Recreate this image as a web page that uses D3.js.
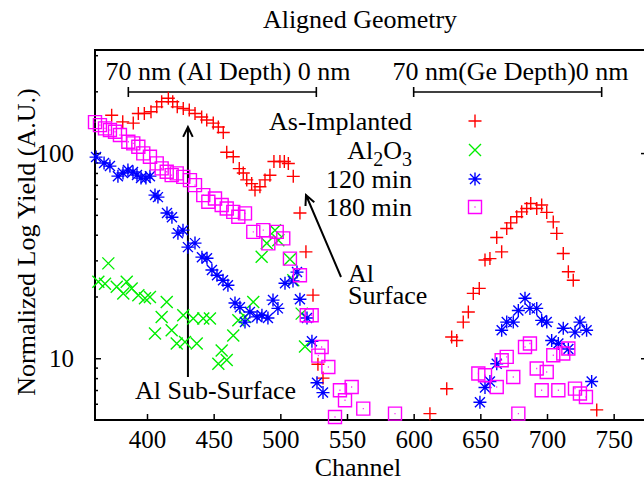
<!DOCTYPE html>
<html>
<head>
<meta charset="utf-8">
<script src="https://cdn.jsdelivr.net/npm/d3@7"></script>
<style>
  body { margin: 0; background: #fff; }
  text { font-family: "Liberation Serif", "DejaVu Serif", serif; fill: #000; }
</style>
</head>
<body>
<div id="chart-area"></div>
<script>
// values: [channel, normalized yield]
const asImplanted = [
  [373.5,153],[381.8,142],[389.7,140],[393.5,156],[398,156],[403,159],[407.3,168],[411,178],
  [416,185],[419.3,178],[422.7,168],[427.2,165],[431.7,162],[436,156],[441,150],[444.8,145],
  [449.7,140],[453.5,134],[457.2,126],[459.8,101],[464.7,96],[469.2,84],[472.2,80],[474.8,74],
  [478.5,71],[481,66],[484.7,68.5],[488.5,74],[492.2,78],[495.2,91],[499.7,91],[503,91],
  [506,89],[509.7,77],[514.7,51],[519.2,33],[524.5,20.3],[528.2,9.35],[532,8.0],
  [612.2,5.37],[624.8,7.1],[628.5,12.7],[632.3,12.2],[637.2,15],[641,16.8],[644.7,20.7],
  [649.2,21.9],[653.5,30.1],[657.2,30.6],[662.3,38.8],[666,33],[669.8,42.9],[672.8,45.7],
  [677.3,48.9],[681,51.7],[684.8,53.7],[687.8,56.8],[692.3,53.7],[696,55.8],[699.8,51.4],
  [704.7,46.2],[707.3,40.6],[712.2,32.4],[716,26.4],[719.7,24],[737.3,5.6]
];
const al2o3 = [
  [363.5,23.6],[368.5,23.1],[371,29],[377.3,22.3],[382.2,20.7],[384.8,23.6],[388.5,21.9],
  [393.5,20.3],[398.5,19.6],[402.2,19.9],[406,13.2],[411,15.9],[414.8,18.8],[418.5,13.7],
  [422.3,11.8],[427.2,16.2],[428.5,12],[434.7,15.6],[437.3,11.8],[442.2,15.6],[447.2,15.6],
  [453.5,9.4],[456,10.9],[459.8,9.8],[464.7,12.9],[468.5,15.3],[473.5,15.9],[479.7,18.8],
  [486,31.2],[489.8,36.3],[496,42.1],[498.5,37.6],[507.2,30.4],[509.7,24],[516,16.5],[518.5,11.4]
];
const min120 = [
  [361.8,95.6],[367.8,89.4],[372.2,86.4],[378.2,77.2],[382,79.9],[385.7,82.6],[389.5,80.8],
  [392.5,78.1],[395.5,75.5],[399.2,75.5],[402.2,77.2],[406,62.4],[408.2,61],[415,51],
  [418.7,48.7],[423.2,40.7],[427,42.1],[430.7,34.8],[436,36.4],[441.2,31.1],[445,30.7],
  [448.7,26.9],[452.5,25.4],[457,24],[460.7,22.7],[466,18.6],[469.7,17.7],[473.5,15],
  [477.2,16.8],[482.5,15.9],[486.2,16.2],[490.7,15.7],[494.5,19.2],[498.2,17.5],[503.5,23.2],
  [509.5,23.8],[512.5,26.3],[514.7,19.4],[520,15.7],[523.7,12.1],[527.5,7.6],[532,6.8],
  [649.7,6.1],[653.5,7.2],[657.2,7.7],[662.3,9.4],[666,13.7],[669.8,15],[674.7,15],
  [678.5,17.1],[683.5,19.6],[687.2,17.5],[692.3,17.5],[696,15.3],[699.8,15],[703.5,12.2],
  [708.5,11.8],[712.2,14],[716,11.1],[721,13.4],[724.7,15],[729.7,13.7],[733.5,7.7]
];
const min180 = [
  [361,141.6],[364.7,136.9],[368.5,132],[372.2,129.5],[376,127],[379.7,122.4],[386,113.6],
  [389.7,111.5],[393.5,107.3],[397.2,99.7],[402.2,95.9],[407.3,89.1],[411,84.2],[414.8,81.1],
  [418.5,78.1],[422.3,79.6],[427.2,76.6],[432.2,73.8],[436,69.8],[442.2,62.4],[446,57.9],
  [451,60.1],[456,55.8],[459.8,53.7],[464.7,51.7],[468.5,48.9],[473.5,50.8],[479.7,41.3],
  [487.2,42.1],[491,36.3],[497.3,41.3],[502.2,38.4],[507.2,30.6],[514.7,25.4],[519.8,16.2],
  [523.5,16.2],[528.5,10.3],[531,11.35],[536,9.07],[541,5.17],[544.7,6.98],[548.5,6.24],
  [553.5,7.24],[562.2,5.68],[586,5.37],
  [648.5,8.42],[653.5,8.26],[662.3,7.24],[666,9.78],[669.8,10.15],[674.7,8.1],[678.5,5.37],
  [683.5,11.35],[687.2,11.8],[692.3,8.91],[696,6.98],[699.8,8.57],[704.7,10.34],[708.5,6.98],
  [712.2,10.54],[716,11.15],[721,7.11],[724.7,6.73],[729.2,6.47]
];

const seriesNames = ["As-Implanted", "Al2O3", "120 min", "180 min"];
const seriesColors = ["#ff0000", "#00ee00", "#0000ff", "#ff00ff"];
const seriesShapes = ["plus", "cross", "star", "box"];
const xTickValues = [400, 450, 500, 550, 600, 650, 700, 750];
const yMajorTicks = [10, 100];
const yMinorTicks = [6, 7, 8, 9, 20, 30, 40, 50, 60, 70, 80, 90, 200, 300];

const svg = d3.select("#chart-area")
    .append("svg")
    .attr("width", 644)
    .attr("height", 481);

const x = d3.scaleLinear().domain([361, 775]).range([95, 647]);
const y = d3.scaleLog().domain([5, 318]).range([420, 50]);

// frame
svg.append("rect")
    .attr("x", 95).attr("y", 50)
    .attr("width", 647 - 95).attr("height", 370)
    .attr("fill", "none").attr("stroke", "#000").attr("stroke-width", 2);

// axes
const xAxis = svg.append("g")
    .attr("transform", "translate(0,420)")
    .call(d3.axisBottom(x).tickValues(xTickValues).tickSizeInner(-6).tickSizeOuter(0).tickPadding(10));
const yAxis = svg.append("g")
    .attr("transform", "translate(95,0)")
    .call(d3.axisLeft(y).tickValues(yMajorTicks).tickFormat(d3.format("d")).tickSizeInner(-6).tickSizeOuter(0).tickPadding(21));
const yMinor = svg.append("g")
    .attr("transform", "translate(95,0)")
    .call(d3.axisLeft(y).tickValues(yMinorTicks).tickFormat("").tickSizeInner(-3).tickSizeOuter(0));
const yRight = svg.append("g")
    .attr("transform", "translate(647,0)")
    .call(d3.axisRight(y).tickValues(yMajorTicks).tickFormat("").tickSizeInner(-6).tickSizeOuter(0));

[xAxis, yAxis, yMinor, yRight].forEach(function (g) {
    g.select(".domain").remove();
    g.selectAll(".tick line").attr("stroke", "#000").attr("stroke-width", 1.5);
    g.attr("font-family", null).attr("font-size", null);
    g.selectAll("text").style("font-size", "25px");
});

// titles
svg.append("text").attr("x", 360).attr("y", 28).attr("text-anchor", "middle")
    .style("font-size", "26px").text("Aligned Geometry");
svg.append("text").attr("x", 358).attr("y", 476).attr("text-anchor", "middle")
    .style("font-size", "26px").text("Channel");
svg.append("text").attr("transform", "translate(35,242) rotate(-90)").attr("text-anchor", "middle")
    .style("font-size", "26px").text("Normalized Log Yield (A.U.)");

// depth brackets
const brackets = [
    { label: "70 nm (Al Depth) 0 nm", from: 386, to: 527, cx: 228 },
    { label: "70 nm(Ge Depth)0 nm", from: 600, to: 741, cx: 510.5 }
];
brackets.forEach(function (b) {
    const g = svg.append("g").attr("stroke", "#000").attr("stroke-width", 1.6);
    g.append("line").attr("x1", x(b.from)).attr("x2", x(b.to)).attr("y1", 92).attr("y2", 92);
    g.append("line").attr("x1", x(b.from)).attr("x2", x(b.from)).attr("y1", 87).attr("y2", 97);
    g.append("line").attr("x1", x(b.to)).attr("x2", x(b.to)).attr("y1", 87).attr("y2", 97);
    svg.append("text").attr("x", b.cx).attr("y", 80).attr("text-anchor", "middle")
        .style("font-size", "26px").text(b.label);
});

// arrows
function arrow(x1, y1, x2, y2) {
    const a = Math.atan2(y2 - y1, x2 - x1), L = 11, w = 0.45;
    svg.append("path")
        .attr("d", "M" + x1 + "," + y1 + "L" + x2 + "," + y2 +
            "M" + (x2 - L * Math.cos(a - w)) + "," + (y2 - L * Math.sin(a - w)) +
            "L" + x2 + "," + y2 +
            "L" + (x2 - L * Math.cos(a + w)) + "," + (y2 - L * Math.sin(a + w)))
        .attr("fill", "none").attr("stroke", "#000").attr("stroke-width", 2);
}
arrow(x(430.7), 377, x(430.7), 127);
arrow(341, 277, 306, 195);
svg.append("text").attr("x", 135).attr("y", 399).style("font-size", "26px").text("Al Sub-Surface");
svg.append("text").attr("x", 348).attr("y", 282).style("font-size", "26px").text("Al");
svg.append("text").attr("x", 348).attr("y", 304).style("font-size", "26px").text("Surface");

// point symbols
const shapePath = {
    plus: "M-6.5,0H6.5M0,-6.5V6.5",
    cross: "M-6,-6L6,6M-6,6L6,-6",
    star: "M-6.5,0H6.5M0,-6.5V6.5M-5,-5L5,5M-5,5L5,-5",
    box: "M-6.5,-6.5H6.5V6.5H-6.5ZM-0.5,0H0.5"
};
function drawSeries(data, i) {
    svg.append("g").selectAll("path")
        .data(data)
        .enter().append("path")
        .attr("transform", function (d) { return "translate(" + x(d[0]) + "," + y(d[1]) + ")"; })
        .attr("d", shapePath[seriesShapes[i]])
        .attr("fill", "none")
        .attr("stroke", seriesColors[i])
        .attr("stroke-width", 1.4);
}
[asImplanted, al2o3, min120, min180].forEach(drawSeries);

// legend
const legendY = [121, 150, 179, 207];
seriesNames.forEach(function (name, i) {
    const t = svg.append("text").attr("x", 412).attr("y", legendY[i]).attr("dy", "0.35em")
        .attr("text-anchor", "end").style("font-size", "26px");
    if (name === "Al2O3") {
        t.append("tspan").text("Al");
        t.append("tspan").attr("dy", 7).style("font-size", "20px").text("2");
        t.append("tspan").attr("dy", -7).text("O");
        t.append("tspan").attr("dy", 7).style("font-size", "20px").text("3");
    } else {
        t.text(name);
    }
    svg.append("path")
        .attr("transform", "translate(475," + legendY[i] + ")")
        .attr("d", shapePath[seriesShapes[i]])
        .attr("fill", "none").attr("stroke", seriesColors[i]).attr("stroke-width", 1.4);
});
</script>
</body>
</html>
